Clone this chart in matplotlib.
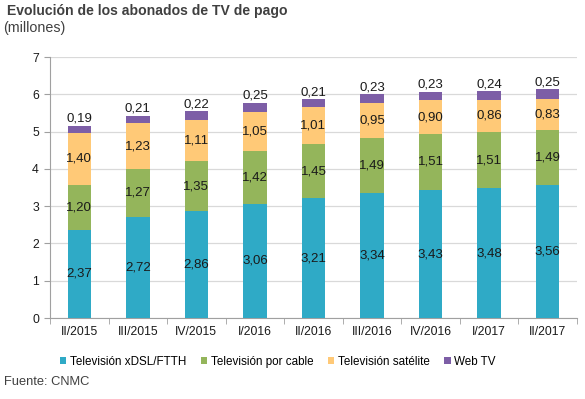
import numpy as np
import matplotlib.pyplot as plt
from matplotlib.patches import Patch

plt.rcParams['font.family'] = ['Liberation Sans', 'DejaVu Sans']

trimestres = ["II/2015", "III/2015", "IV/2015", "I/2016", "II/2016",
              "III/2016", "IV/2016", "I/2017", "II/2017"]
xdsl = [2.37, 2.72, 2.86, 3.06, 3.21, 3.34, 3.43, 3.48, 3.56]
cable = [1.20, 1.27, 1.35, 1.42, 1.45, 1.49, 1.51, 1.51, 1.49]
satelite = [1.40, 1.23, 1.11, 1.05, 1.01, 0.95, 0.90, 0.86, 0.83]
webtv = [0.19, 0.21, 0.22, 0.25, 0.21, 0.23, 0.23, 0.24, 0.25]

series = [xdsl, cable, satelite, webtv]
nombres = ["Televisión xDSL/FTTH", "Televisión por cable",
           "Televisión satélite", "Web TV"]
colores = ["#2FAAC6", "#94B55B", "#FFC977", "#7D5EA6"]

def fmt(v):
    return f"{v:.2f}".replace(".", ",")

fig = plt.figure(figsize=(5.85, 3.99), dpi=100)
ax = fig.add_axes([0.0855, 0.203, 0.9005, 0.654])

x = np.arange(len(trimestres))
base = np.zeros(len(trimestres))
for i, (vals, col) in enumerate(zip(series, colores)):
    vals = np.array(vals)
    ax.bar(x, vals, 0.4, bottom=base, color=col, zorder=3)
    for xi, b, v in zip(x, base, vals):
        if i == 3:
            ax.text(xi, b + v + 0.02, fmt(v), ha="center", va="bottom",
                    fontsize=9.5, color="#1a1a1a", zorder=4)
        else:
            ax.text(xi, b + v / 2, fmt(v), ha="center", va="center",
                    fontsize=9.5, color="#1a1a1a", zorder=4)
    base = base + vals

ax.set_xlim(-0.5, len(trimestres) - 0.5)
ax.set_ylim(0, 7)
ax.set_yticks(range(8))
ax.yaxis.grid(True, color="#D9D9D9", linewidth=0.9, zorder=0)
ax.set_xticks(x)
ax.set_xticklabels(trimestres)
ax.set_xticks(np.arange(-0.5, len(trimestres)), minor=True)
ax.tick_params(axis="x", which="major", length=0, pad=6)
ax.tick_params(axis="x", which="minor", length=4, color="#A0A0A0")
ax.tick_params(axis="y", length=4, color="#A0A0A0", pad=4)
ax.tick_params(labelsize=8.8, labelcolor="#1a1a1a")
for s in ["top", "right"]:
    ax.spines[s].set_visible(False)
for s in ["left", "bottom"]:
    ax.spines[s].set_color("#A0A0A0")

handles = [Patch(facecolor=c, label=n) for c, n in zip(colores, nombres)]
fig.legend(handles=handles, loc="center", bbox_to_anchor=(0.475, 0.093),
           ncol=4, frameon=False, fontsize=8.4, handlelength=0.55,
           handleheight=0.55, handletextpad=0.3, columnspacing=1.25)

fig.text(0.012, 0.972, "Evolución de los abonados de TV de pago",
         fontsize=10.1, fontweight="bold", color="#404040", va="center")
fig.text(0.006, 0.93, "(millones)", fontsize=10.3, color="#404040", va="center")
fig.text(0.006, 0.043, "Fuente: CNMC", fontsize=9.3, color="#404040", va="center")

fig.savefig("out.png", dpi=100)
